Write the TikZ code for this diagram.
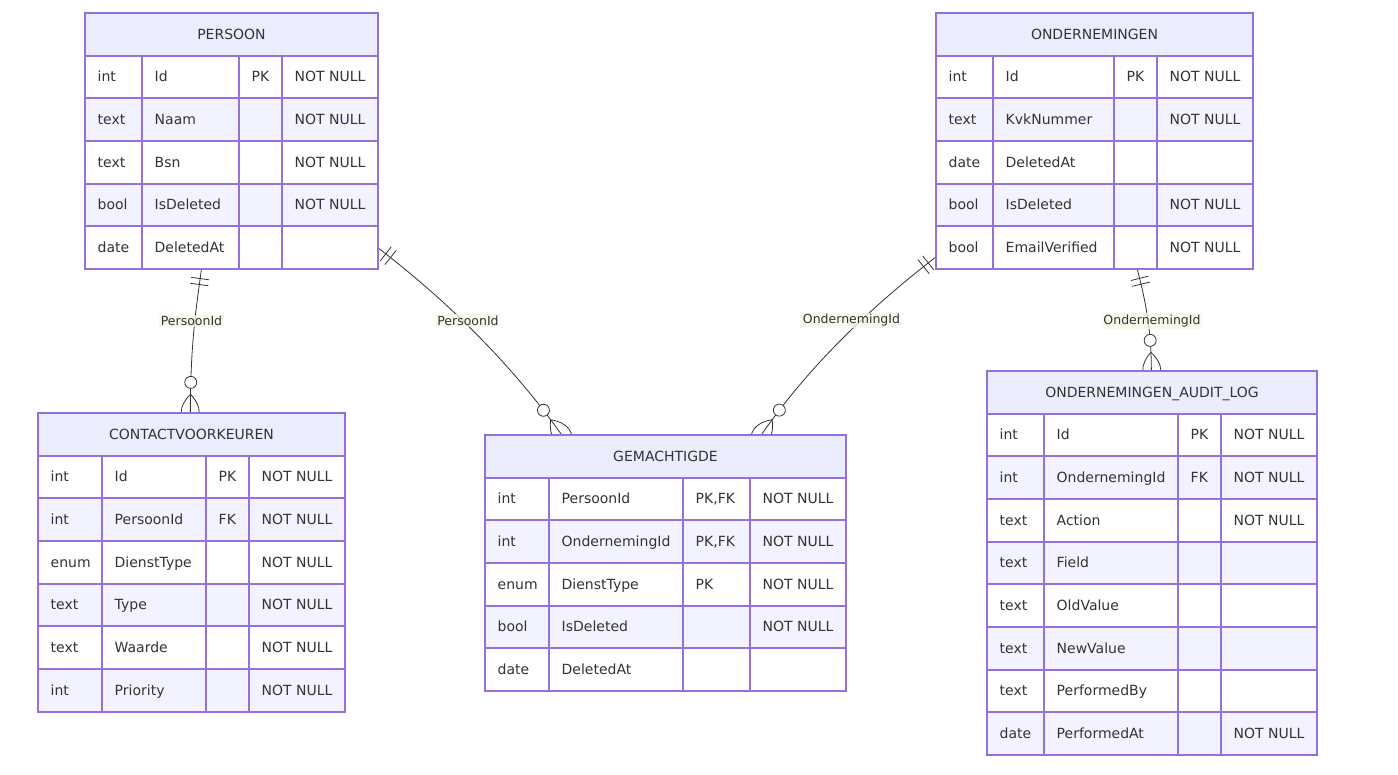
\documentclass[tikz,border=0pt]{standalone}
\usepackage{fontspec}
\setmainfont{DejaVu Sans}
\usetikzlibrary{calc,fit,decorations.markings}

\definecolor{erline}{HTML}{9370DB}
\definecolor{erhead}{HTML}{ECECFF}
\definecolor{erodd}{HTML}{FFFFFF}
\definecolor{ereven}{HTML}{F3F3FF}
\definecolor{ertext}{HTML}{333333}
\definecolor{relline}{HTML}{333333}
\definecolor{lblbg}{HTML}{F4F9E6}

\pgfdeclarelayer{paper}
\pgfdeclarelayer{edges}
\pgfsetlayers{paper,edges,main}

\tikzset{
  cellgrid/.style={draw=erline, line width=1.3pt},
  celltext/.style={anchor=base west, inner sep=0pt, text=ertext,
    font=\fontsize{14}{16}\selectfont},
  headtext/.style={anchor=base, inner sep=0pt, text=ertext,
    font=\fontsize{14}{16}\selectfont},
  entityframe/.style={draw=erline, line width=1.3pt, inner sep=0pt},
  lbl/.style={fill=lblbg, fill opacity=0.75, text opacity=1, text=ertext,
    inner sep=1.5pt, font=\fontsize{12.5}{14}\selectfont},
  % exactly-one at the start, zero-or-many at the end
  rel/.style={draw=relline, line width=0.8pt, postaction=decorate,
    decoration={markings,
      mark=at position 9pt with {\draw[relline, line width=0.8pt] (0,-9pt) -- (0,9pt);},
      mark=at position 15pt with {\draw[relline, line width=0.8pt] (0,-9pt) -- (0,9pt);},
      mark=at position -30pt with {\draw[relline, line width=0.8pt, fill=white] (0,0) circle[radius=6pt];},
      mark=at position -18pt with {\draw[relline, line width=0.8pt]
          (0,0) .. controls (12pt,12pt) and (24pt,12pt) .. (36pt,0pt)
          (0,0) .. controls (12pt,-12pt) and (24pt,-12pt) .. (36pt,0pt);}
    }}
}

% column edges and top of the current entity
\newcommand{\entity}[6]{\def\cA{#1}\def\cB{#2}\def\cC{#3}\def\cD{#4}\def\cE{#5}\def\rT{#6}}
\newcommand{\enthead}[1]{%
  \pgfmathsetmacro\yb{round(\rT+42.67)}%
  \fill[erhead] (\cA,\rT) rectangle (\cE,\yb);
  \node[headtext] at ({(\cA+\cE)/2},\rT+26.3) {#1};}
% one attribute row: index, type, name, key, constraint
\newcommand{\entattr}[5]{%
  \pgfmathsetmacro\ya{round(\rT+42.67*#1)}%
  \pgfmathsetmacro\yb{round(\rT+42.67*(#1+1))}%
  \pgfmathsetmacro\ym{\rT+42.67*#1+26.3}%
  \ifodd#1\relax\def\rowfill{erodd}\else\def\rowfill{ereven}\fi
  \fill[\rowfill] (\cA,\ya) rectangle (\cE,\yb);
  \draw[cellgrid] (\cA,\ya) -- (\cE,\ya)
    (\cB,\ya) -- (\cB,\yb) (\cC,\ya) -- (\cC,\yb) (\cD,\ya) -- (\cD,\yb);
  \node[celltext] at (\cA+12.5,\ym) {#2};
  \node[celltext] at (\cB+12.5,\ym) {#3};
  \node[celltext] at (\cC+12.5,\ym) {#4};
  \node[celltext] at (\cD+12.5,\ym) {#5};}
\newcommand{\entframe}[2]{%
  \pgfmathsetmacro\yb{round(\rT+42.67*(#2+1))}%
  \node[entityframe, fit={(\cA,\rT) (\cE,\yb)}] (#1) {};}

\begin{document}
\begin{tikzpicture}[x=1pt, y=-1pt]
\begin{pgfonlayer}{paper}
\fill[white] (0,0) rectangle (1398,775);
\end{pgfonlayer}
\useasboundingbox (0,0) rectangle (1398,775);

% PERSOON
\entity{85}{142}{239}{282}{378}{13}
\enthead{PERSOON}
\entattr{1}{int}{Id}{PK}{NOT NULL}
\entattr{2}{text}{Naam}{}{NOT NULL}
\entattr{3}{text}{Bsn}{}{NOT NULL}
\entattr{4}{bool}{IsDeleted}{}{NOT NULL}
\entattr{5}{date}{DeletedAt}{}{}
\entframe{persoon}{5}

% ONDERNEMINGEN
\entity{936}{993}{1114}{1157}{1253}{13}
\enthead{ONDERNEMINGEN}
\entattr{1}{int}{Id}{PK}{NOT NULL}
\entattr{2}{text}{KvkNummer}{}{NOT NULL}
\entattr{3}{date}{DeletedAt}{}{}
\entattr{4}{bool}{IsDeleted}{}{NOT NULL}
\entattr{5}{bool}{EmailVerified}{}{NOT NULL}
\entframe{onder}{5}

% CONTACTVOORKEUREN
\entity{38}{102}{206}{249}{345}{413}
\enthead{CONTACTVOORKEUREN}
\entattr{1}{int}{Id}{PK}{NOT NULL}
\entattr{2}{int}{PersoonId}{FK}{NOT NULL}
\entattr{3}{enum}{DienstType}{}{NOT NULL}
\entattr{4}{text}{Type}{}{NOT NULL}
\entattr{5}{text}{Waarde}{}{NOT NULL}
\entattr{6}{int}{Priority}{}{NOT NULL}
\entframe{contact}{6}

% GEMACHTIGDE
\entity{485}{549}{683}{750}{846}{435}
\enthead{GEMACHTIGDE}
\entattr{1}{int}{PersoonId}{PK,FK}{NOT NULL}
\entattr{2}{int}{OndernemingId}{PK,FK}{NOT NULL}
\entattr{3}{enum}{DienstType}{PK}{NOT NULL}
\entattr{4}{bool}{IsDeleted}{}{NOT NULL}
\entattr{5}{date}{DeletedAt}{}{}
\entframe{gemacht}{5}

% ONDERNEMINGEN_AUDIT_LOG
\entity{987}{1044}{1178}{1221}{1317}{371}
\enthead{ONDERNEMINGEN\_AUDIT\_LOG}
\entattr{1}{int}{Id}{PK}{NOT NULL}
\entattr{2}{int}{OndernemingId}{FK}{NOT NULL}
\entattr{3}{text}{Action}{}{NOT NULL}
\entattr{4}{text}{Field}{}{}
\entattr{5}{text}{OldValue}{}{}
\entattr{6}{text}{NewValue}{}{}
\entattr{7}{text}{PerformedBy}{}{}
\entattr{8}{date}{PerformedAt}{}{NOT NULL}
\entframe{audit}{8}

% relationships, drawn beneath the entities
\begin{pgfonlayer}{edges}
\draw[rel] ($(persoon.south west)+(117,0)$) .. controls +(-4,31) and +(0,-73) ..
  ($(contact.north west)+(153,0)$) node[lbl] at (191.5,321) {PersoonId};
\draw[rel] ($(persoon.north east)+(0,236)$) .. controls +(47,36) and +(-62,-87) ..
  ($(gemacht.north west)+(77,0)$) node[lbl] at (468,320.5) {PersoonId};
\draw[rel] ($(onder.north west)+(0,245)$) .. controls +(-41,32) and +(59,-85) ..
  ($(gemacht.north east)+(-85,0)$) node[lbl] at (851.5,320.5) {OndernemingId};
\draw[rel] ($(onder.south west)+(202,0)$) .. controls +(8,30) and +(0,-40) ..
  ($(audit.north west)+(165,0)$) node[lbl] at (1152,321) {OndernemingId};
\end{pgfonlayer}
\end{tikzpicture}
\end{document}
